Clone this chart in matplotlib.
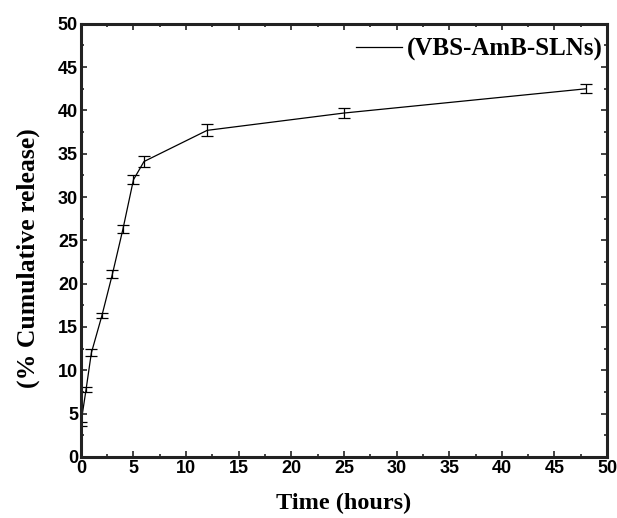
import numpy as np
import matplotlib
matplotlib.use("Agg")
import matplotlib.pyplot as plt
from matplotlib.ticker import MultipleLocator
from matplotlib.lines import Line2D

# release data
time_h = [0, 0.5, 1, 2, 3, 4, 5, 6, 12, 25, 48]
release = [3.8, 7.8, 12.0, 16.3, 21.1, 26.3, 32.0, 34.1, 37.7, 39.7, 42.5]
err = [0.2, 0.3, 0.4, 0.3, 0.5, 0.5, 0.5, 0.6, 0.7, 0.6, 0.5]

fig = plt.figure(figsize=(6.17, 5.18), dpi=100)
ax = fig.add_axes([0.131, 0.118, 0.853, 0.836])

ax.errorbar(time_h, release, yerr=err, color='black', lw=0.9,
            elinewidth=0.9, capsize=4, capthick=0.9)

ax.set_xlim(0, 50)
ax.set_ylim(0, 50)
ax.xaxis.set_major_locator(MultipleLocator(5))
ax.yaxis.set_major_locator(MultipleLocator(5))
ax.xaxis.set_minor_locator(MultipleLocator(2.5))
ax.yaxis.set_minor_locator(MultipleLocator(2.5))
ax.tick_params(which='both', direction='in', top=True, right=True,
               width=1.2, color='#222222')
ax.tick_params(which='major', length=4, labelsize=13, pad=2)
ax.tick_params(which='minor', length=2)
for lbl in ax.get_xticklabels() + ax.get_yticklabels():
    lbl.set_fontfamily('Liberation Sans')
    lbl.set_fontweight('bold')
for s in ax.spines.values():
    s.set_linewidth(2.2)
    s.set_color('#222222')

ax.set_xlabel('Time (hours)', fontfamily='Liberation Serif',
              fontweight='bold', fontsize=17.5)
ax.set_ylabel('(% Cumulative release)', fontfamily='Liberation Serif',
              fontweight='bold', fontsize=18.5)
ax.xaxis.set_label_coords(0.5, -0.083)
ax.yaxis.set_label_coords(-0.078, 0.46)

# legend shows a plain line only
handle = Line2D([], [], color='black', lw=0.9)
ax.legend([handle], ['(VBS-AmB-SLNs)'], loc='upper right', frameon=False,
          bbox_to_anchor=(0.992, 0.968), borderaxespad=0, borderpad=0,
          handlelength=1.85, handletextpad=0.2,
          prop={'family': 'Liberation Serif', 'weight': 'bold', 'size': 18})

fig.savefig('out.png', dpi=100)
